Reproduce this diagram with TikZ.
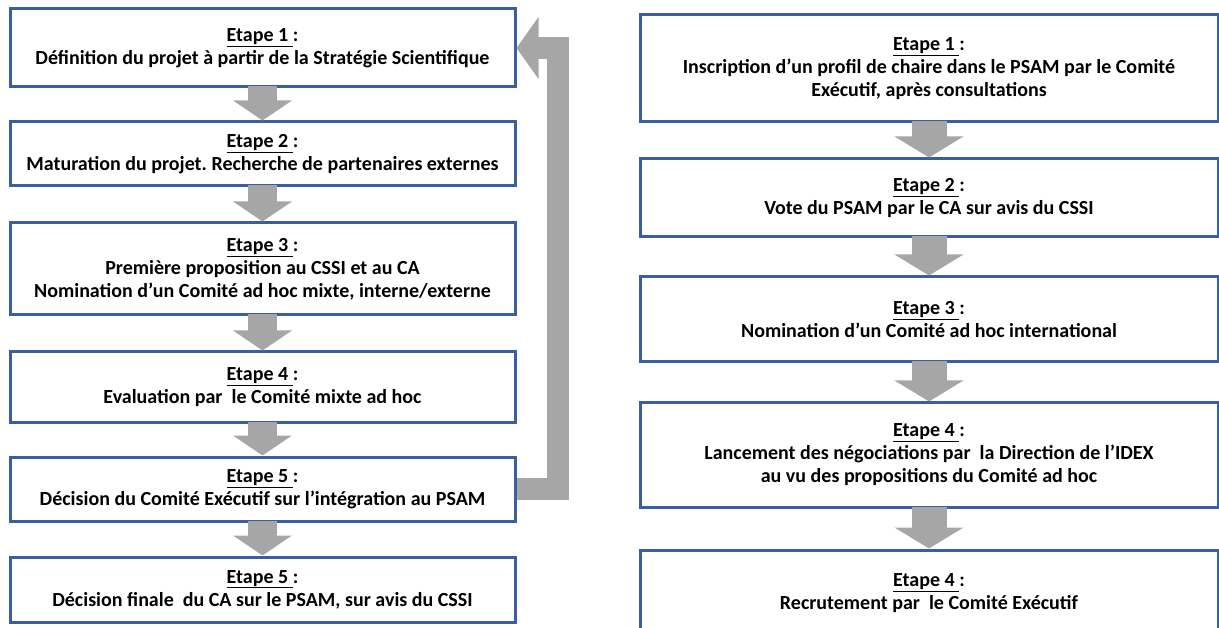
\documentclass[tikz,border=0pt]{standalone}
\usepackage{fontspec}
\setmainfont{Carlito}
\frenchspacing
\usetikzlibrary{arrows.meta}
\definecolor{boxblue}{RGB}{59,94,160}
\definecolor{arrowgray}{RGB}{166,166,166}
\newcommand{\etape}[1]{\underline{Etape #1\ }:}

\begin{document}
\begin{tikzpicture}[x=1pt, y=-1pt,
    stepbox/.style={draw=boxblue, line width=3pt, fill=white, align=center, inner sep=0pt,
                    font=\fontsize{20}{23}\selectfont\bfseries},
    leftbox/.style={stepbox, minimum width=505pt},
    rightbox/.style={stepbox, minimum width=578pt},
    downleft/.style={draw=arrowgray, line width=29pt, -{Triangle[width=58pt,length=20pt]}},
    downright/.style={draw=arrowgray, line width=35pt, -{Triangle[width=68pt,length=21pt]}},
    backarrow/.style={draw=arrowgray, line width=22pt, line join=miter, -{Triangle[width=61pt,length=22pt]}}]
  \useasboundingbox (0,0) rectangle (1219,628);
  % left column: project steps
  \node[leftbox, minimum height=78pt] (l1) at (262.5,48) {\etape{1}\\ Définition du projet à partir de la Stratégie Scientifique};
  \node[leftbox, minimum height=64pt] (l2) at (262.5,154) {\etape{2}\\ Maturation du projet. Recherche de partenaires externes};
  \node[leftbox, minimum height=92pt] (l3) at (262.5,269) {\etape{3}\\ Première proposition au CSSI et au CA\\ Nomination d’un Comité ad hoc mixte, interne/externe};
  \node[leftbox, minimum height=71pt] (l4) at (262.5,387.5) {\etape{4}\\ Evaluation par\ \ le Comité mixte ad hoc};
  \node[leftbox, minimum height=64pt] (l5) at (262.5,489) {\etape{5}\\ Décision du Comité Exécutif sur l’intégration au PSAM};
  \node[leftbox, minimum height=65pt] (l6) at (262.5,589.5) {\etape{5}\\ Décision finale\ \ du CA sur le PSAM, sur avis du CSSI};
  % right column: chair steps
  \node[rightbox, minimum height=107pt] (r1) at (929,68.5) {\etape{1}\\ Inscription d’un profil de chaire dans le PSAM par le Comité\\ Exécutif, après consultations};
  \node[rightbox, minimum height=78pt] (r2) at (929,198) {\etape{2}\\ Vote du PSAM par le CA sur avis du CSSI};
  \node[rightbox, minimum height=85pt] (r3) at (929,319.5) {\etape{3}\\ Nomination d’un Comité ad hoc international};
  \node[rightbox, minimum height=104pt] (r4) at (929,455) {\etape{4}\\ Lancement des négociations par\ \ la Direction de l’IDEX\\ au vu des propositions du Comité ad hoc};
  \node[rightbox, minimum height=86pt] (r5) at (929,593) {\etape{4}\\ Recrutement par\ \ le Comité Exécutif};

  \foreach \a/\b in {l1/l2,l2/l3,l3/l4,l4/l5,l5/l6}
    \draw[downleft] ([yshift=2pt]\a.south) -- (\b.north);
  \foreach \a/\b in {r1/r2,r2/r3,r3/r4,r4/r5}
    \draw[downright] ([yshift=2pt]\a.south) -- (\b.north);
  % back to step 1
  \draw[backarrow] (l5.east) -- ++(41,0) |- (l1.east);
\end{tikzpicture}
\end{document}
